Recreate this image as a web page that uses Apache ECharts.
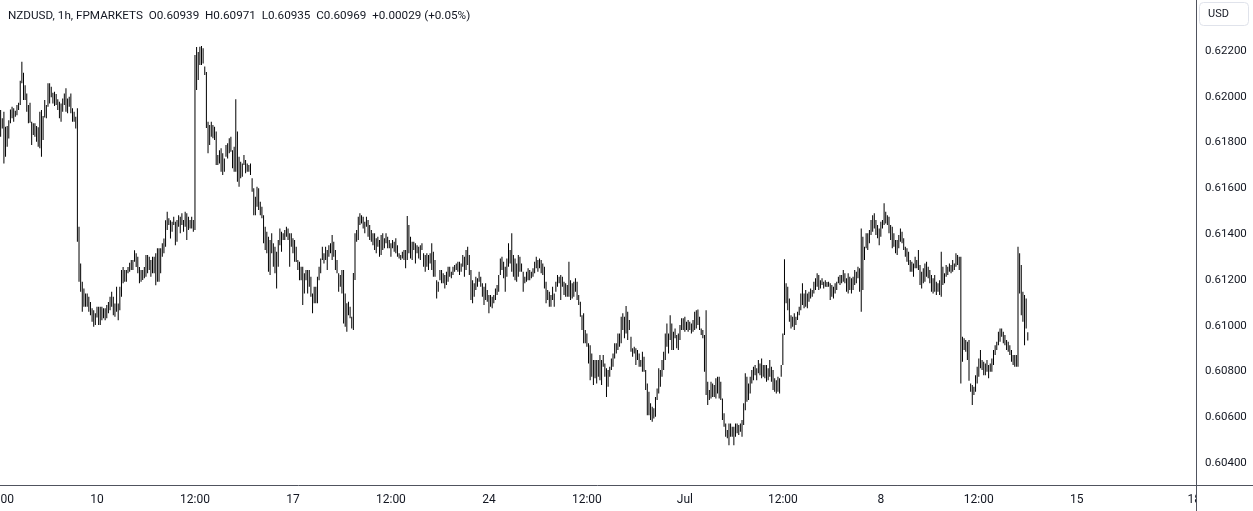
<!DOCTYPE html>
<html><head><meta charset="utf-8">
<script src="https://cdn.jsdelivr.net/npm/echarts@6/dist/echarts.min.js"></script>
<style>html,body{margin:0;padding:0;background:#fff;overflow:hidden}#chart{width:1253px;height:511px}</style>
</head><body><div id="chart"></div>
<script>
const titleText = 'NZDUSD, 1h, FPMARKETS  O0.60939  H0.60971  L0.60935  C0.60969  +0.00029 (+0.05%)';
const currency = 'USD';
const axisStart = '2024-06-05 12:00';
const firstBar = '2024-06-05 13:00';
const axisHours = 734;
const priceTicks = [0.604,0.606,0.608,0.610,0.612,0.614,0.616,0.618,0.620,0.622];
const timeTicks = [
  ['2024-06-05 12:00','12:00'],['2024-06-10 00:00','10'],['2024-06-12 12:00','12:00'],
  ['2024-06-17 00:00','17'],['2024-06-19 12:00','12:00'],['2024-06-24 00:00','24'],
  ['2024-06-26 12:00','12:00'],['2024-07-01 00:00','Jul'],['2024-07-03 12:00','12:00'],
  ['2024-07-08 00:00','8'],['2024-07-10 12:00','12:00'],['2024-07-15 00:00','15'],
  ['2024-07-18 00:00','18']
];
const highs = [
0.61942,0.61906,0.61935,0.61869,0.61872,0.61898,0.61945,0.61957,0.61950,0.61939,
0.61964,0.61974,0.62070,0.62153,0.62105,0.62051,0.62015,0.61964,0.61974,0.61891,
0.61884,0.61884,0.61872,0.61867,0.61935,0.61942,0.61916,0.61986,0.61964,0.62059,
0.62059,0.62044,0.62018,0.62022,0.62012,0.61989,0.61978,0.61971,0.61993,0.62015,
0.62037,0.61993,0.62000,0.62015,0.61950,0.61935,0.61913,0.61950,0.61432,0.61272,
0.61192,0.61163,0.61141,0.61141,0.61126,0.61104,0.61076,0.61068,0.61054,0.61083,
0.61083,0.61083,0.61083,0.61076,0.61076,0.61090,0.61104,0.61126,0.61148,0.61126,
0.61097,0.61170,0.61097,0.61170,0.61243,0.61257,0.61243,0.61243,0.61257,0.61275,
0.61287,0.61287,0.61330,0.61316,0.61301,0.61257,0.61243,0.61243,0.61257,0.61309,
0.61309,0.61301,0.61287,0.61301,0.61301,0.61316,0.61338,0.61338,0.61338,0.61360,
0.61381,0.61461,0.61498,0.61469,0.61461,0.61454,0.61476,0.61454,0.61462,0.61483,
0.61476,0.61491,0.61462,0.61498,0.61491,0.61476,0.61462,0.61476,0.61462,0.62183,
0.62218,0.62196,0.62219,0.62222,0.62212,0.62132,0.62108,0.61891,0.61877,0.61891,
0.61877,0.61869,0.61848,0.61746,0.61767,0.61775,0.61753,0.61731,0.61789,0.61797,
0.61819,0.61826,0.61767,0.61782,0.61989,0.61848,0.61738,0.61716,0.61709,0.61746,
0.61724,0.61709,0.61702,0.61709,0.61644,0.61600,0.61563,0.61607,0.61601,0.61542,
0.61520,0.61483,0.61432,0.61410,0.61389,0.61374,0.61404,0.61360,0.61345,0.61323,
0.61374,0.61425,0.61410,0.61404,0.61418,0.61432,0.61425,0.61404,0.61404,0.61382,
0.61374,0.61345,0.61287,0.61279,0.61258,0.61258,0.61229,0.61243,0.61243,0.61243,
0.61214,0.61141,0.61170,0.61170,0.61214,0.61258,0.61294,0.61345,0.61316,0.61345,
0.61331,0.61352,0.61360,0.61396,0.61367,0.61331,0.61287,0.61229,0.61221,0.61243,
0.61243,0.61141,0.61098,0.61105,0.61083,0.61039,0.61230,0.61404,0.61418,0.61476,
0.61491,0.61483,0.61476,0.61454,0.61476,0.61462,0.61440,0.61418,0.61404,0.61404,
0.61382,0.61389,0.61374,0.61396,0.61404,0.61382,0.61404,0.61389,0.61374,0.61360,
0.61374,0.61367,0.61382,0.61352,0.61316,0.61309,0.61323,0.61331,0.61331,0.61479,
0.61440,0.61389,0.61367,0.61367,0.61360,0.61352,0.61345,0.61352,0.61360,0.61316,
0.61309,0.61316,0.61309,0.61316,0.61360,0.61323,0.61287,0.61199,0.61192,0.61243,
0.61243,0.61229,0.61221,0.61236,0.61258,0.61258,0.61236,0.61258,0.61265,0.61272,
0.61279,0.61279,0.61272,0.61309,0.61301,0.61331,0.61345,0.61309,0.61243,0.61199,
0.61185,0.61214,0.61207,0.61236,0.61214,0.61185,0.61170,0.61185,0.61156,0.61134,
0.61134,0.61126,0.61134,0.61163,0.61178,0.61221,0.61294,0.61301,0.61279,0.61258,
0.61294,0.61360,0.61331,0.61404,0.61309,0.61294,0.61272,0.61309,0.61301,0.61272,
0.61236,0.61214,0.61236,0.61251,0.61243,0.61236,0.61251,0.61279,0.61301,0.61287,
0.61294,0.61287,0.61272,0.61258,0.61192,0.61156,0.61148,0.61134,0.61170,0.61141,
0.61192,0.61221,0.61214,0.61221,0.61214,0.61192,0.61185,0.61178,0.61279,0.61199,
0.61185,0.61192,0.61207,0.61192,0.61134,0.61105,0.61046,0.61054,0.60981,0.60966,
0.60923,0.60915,0.60879,0.60850,0.60850,0.60850,0.60850,0.60872,0.60850,0.60872,
0.60835,0.60814,0.60806,0.60821,0.60857,0.60879,0.60923,0.60923,0.60966,0.60966,
0.61039,0.61054,0.61039,0.61086,0.61061,0.61025,0.60952,0.60901,0.60908,0.60901,
0.60894,0.60879,0.60850,0.60886,0.60864,0.60806,0.60748,0.60711,0.60661,0.60646,
0.60639,0.60689,0.60726,0.60814,0.60806,0.60850,0.60886,0.60966,0.61010,0.60966,
0.61046,0.61010,0.60974,0.60988,0.60959,0.60966,0.61003,0.61032,0.61032,0.61039,
0.61017,0.61025,0.61017,0.61010,0.61025,0.61061,0.61068,0.61071,0.61039,0.60988,
0.60981,0.60959,0.61068,0.60755,0.60719,0.60755,0.60748,0.60741,0.60770,0.60777,
0.60777,0.60755,0.60682,0.60617,0.60573,0.60544,0.60573,0.60573,0.60558,0.60558,
0.60573,0.60573,0.60566,0.60573,0.60588,0.60661,0.60792,0.60777,0.60748,0.60777,
0.60806,0.60821,0.60828,0.60814,0.60850,0.60835,0.60857,0.60828,0.60828,0.60828,
0.60814,0.60850,0.60821,0.60806,0.60770,0.60762,0.60777,0.60770,0.60828,0.60966,
0.61290,0.61185,0.61170,0.61119,0.61046,0.61039,0.61054,0.61039,0.61061,0.61083,
0.61141,0.61185,0.61141,0.61156,0.61141,0.61148,0.61163,0.61156,0.61192,0.61207,
0.61229,0.61221,0.61199,0.61207,0.61192,0.61199,0.61191,0.61192,0.61185,0.61178,
0.61170,0.61185,0.61192,0.61214,0.61221,0.61221,0.61243,0.61229,0.61207,0.61229,
0.61214,0.61207,0.61214,0.61243,0.61236,0.61258,0.61251,0.61425,0.61389,0.61345,
0.61404,0.61404,0.61418,0.61462,0.61483,0.61491,0.61462,0.61440,0.61425,0.61454,
0.61462,0.61535,0.61498,0.61483,0.61476,0.61440,0.61432,0.61404,0.61374,0.61374,
0.61396,0.61425,0.61410,0.61382,0.61345,0.61338,0.61323,0.61287,0.61279,0.61272,
0.61301,0.61287,0.61331,0.61265,0.61236,0.61251,0.61272,0.61279,0.61258,0.61243,
0.61221,0.61207,0.61221,0.61192,0.61185,0.61199,0.61323,0.61258,0.61229,0.61265,
0.61258,0.61272,0.61265,0.61287,0.61272,0.61316,0.61309,0.61301,0.61301,0.60952,
0.60945,0.60937,0.60930,0.60937,0.60748,0.60741,0.60733,0.60784,0.60821,0.60857,
0.60894,0.60850,0.60842,0.60835,0.60850,0.60828,0.60835,0.60857,0.60894,0.60915,
0.60930,0.60974,0.60988,0.60988,0.60974,0.60959,0.60937,0.60930,0.60915,0.60894,
0.60872,0.60872,0.60872,0.61345,0.61316,0.61265,0.61148,0.61134,0.61119,0.60971
];
const lows = [
0.61825,0.61862,0.61709,0.61738,0.61782,0.61818,0.61884,0.61906,0.61891,0.61913,
0.61920,0.61942,0.61964,0.62059,0.61986,0.61986,0.61935,0.61884,0.61887,0.61789,
0.61833,0.61825,0.61804,0.61782,0.61775,0.61738,0.61811,0.61910,0.61906,0.61957,
0.61971,0.61998,0.61971,0.61960,0.61964,0.61942,0.61906,0.61891,0.61935,0.61964,
0.61935,0.61928,0.61957,0.61928,0.61891,0.61891,0.61862,0.61367,0.61192,0.61148,
0.61061,0.61083,0.61083,0.61083,0.61061,0.61046,0.61017,0.60995,0.61003,0.61036,
0.61003,0.61003,0.61024,0.61032,0.61024,0.61032,0.61054,0.61068,0.61083,0.61046,
0.61039,0.61061,0.61024,0.61068,0.61126,0.61185,0.61192,0.61192,0.61229,0.61236,
0.61243,0.61243,0.61279,0.61257,0.61229,0.61185,0.61192,0.61200,0.61207,0.61214,
0.61229,0.61243,0.61214,0.61229,0.61229,0.61177,0.61192,0.61192,0.61229,0.61301,
0.61316,0.61345,0.61418,0.61440,0.61381,0.61410,0.61440,0.61352,0.61367,0.61432,
0.61404,0.61440,0.61410,0.61432,0.61374,0.61418,0.61425,0.61425,0.61410,0.61418,
0.62030,0.62073,0.62139,0.62139,0.62146,0.62095,0.61864,0.61753,0.61789,0.61826,
0.61819,0.61811,0.61702,0.61702,0.61709,0.61673,0.61658,0.61673,0.61738,0.61731,
0.61753,0.61760,0.61688,0.61673,0.61673,0.61629,0.61607,0.61644,0.61651,0.61702,
0.61666,0.61673,0.61673,0.61658,0.61585,0.61483,0.61483,0.61520,0.61505,0.61483,
0.61469,0.61360,0.61331,0.61316,0.61236,0.61221,0.61316,0.61258,0.61229,0.61163,
0.61258,0.61352,0.61323,0.61374,0.61374,0.61389,0.61374,0.61258,0.61345,0.61316,
0.61279,0.61278,0.61243,0.61199,0.61199,0.61090,0.61141,0.61199,0.61141,0.61170,
0.61126,0.61054,0.61098,0.61098,0.61098,0.61199,0.61229,0.61287,0.61272,0.61287,
0.61243,0.61301,0.61316,0.61287,0.61301,0.61243,0.61229,0.61148,0.61170,0.61141,
0.61010,0.60995,0.60974,0.61046,0.61032,0.60988,0.60981,0.61200,0.61367,0.61374,
0.61440,0.61447,0.61425,0.61404,0.61432,0.61389,0.61374,0.61367,0.61352,0.61331,
0.61316,0.61345,0.61301,0.61309,0.61331,0.61338,0.61360,0.61338,0.61338,0.61301,
0.61338,0.61323,0.61316,0.61301,0.61294,0.61287,0.61294,0.61287,0.61251,0.61287,
0.61316,0.61294,0.61287,0.61331,0.61272,0.61316,0.61294,0.61287,0.61331,0.61258,
0.61236,0.61258,0.61243,0.61272,0.61243,0.61214,0.61214,0.61119,0.61148,0.61199,
0.61185,0.61185,0.61163,0.61178,0.61192,0.61214,0.61207,0.61221,0.61236,0.61243,
0.61236,0.61221,0.61236,0.61258,0.61214,0.61243,0.61265,0.61221,0.61112,0.61098,
0.61126,0.61156,0.61170,0.61192,0.61170,0.61126,0.61090,0.61112,0.61105,0.61054,
0.61083,0.61076,0.61098,0.61112,0.61134,0.61148,0.61221,0.61243,0.61207,0.61148,
0.61214,0.61258,0.61272,0.61236,0.61214,0.61199,0.61192,0.61214,0.61236,0.61236,
0.61148,0.61185,0.61192,0.61199,0.61199,0.61207,0.61214,0.61229,0.61251,0.61236,
0.61251,0.61229,0.61221,0.61163,0.61098,0.61112,0.61083,0.61083,0.61112,0.61083,
0.61148,0.61170,0.61185,0.61112,0.61170,0.61134,0.61126,0.61126,0.61126,0.61112,
0.61119,0.61126,0.61148,0.61112,0.61090,0.61039,0.60981,0.60923,0.60923,0.60908,
0.60835,0.60762,0.60777,0.60741,0.60770,0.60748,0.60777,0.60762,0.60741,0.60821,
0.60777,0.60689,0.60733,0.60777,0.60806,0.60821,0.60857,0.60879,0.60894,0.60908,
0.60923,0.60981,0.60945,0.60966,0.60937,0.60981,0.60886,0.60864,0.60879,0.60828,
0.60850,0.60821,0.60821,0.60799,0.60799,0.60719,0.60609,0.60609,0.60588,0.60580,
0.60595,0.60602,0.60675,0.60704,0.60733,0.60777,0.60806,0.60850,0.60908,0.60879,
0.60937,0.60894,0.60894,0.60945,0.60901,0.60894,0.60937,0.60981,0.60981,0.60974,
0.60981,0.60974,0.60981,0.60966,0.60974,0.60981,0.60988,0.61003,0.60981,0.60959,
0.60945,0.60799,0.60697,0.60653,0.60675,0.60682,0.60689,0.60689,0.60682,0.60704,
0.60682,0.60675,0.60588,0.60558,0.60515,0.60508,0.60478,0.60515,0.60515,0.60478,
0.60515,0.60530,0.60522,0.60537,0.60515,0.60566,0.60631,0.60668,0.60675,0.60704,
0.60748,0.60762,0.60784,0.60762,0.60792,0.60784,0.60770,0.60777,0.60770,0.60755,
0.60762,0.60777,0.60755,0.60719,0.60711,0.60704,0.60711,0.60704,0.60777,0.60828,
0.60959,0.61098,0.61068,0.61017,0.60988,0.60995,0.60981,0.61003,0.61025,0.61046,
0.61068,0.61090,0.61076,0.61083,0.61076,0.61105,0.61119,0.61126,0.61141,0.61156,
0.61170,0.61156,0.61163,0.61178,0.61163,0.61170,0.61169,0.61170,0.61112,0.61126,
0.61119,0.61141,0.61156,0.61185,0.61178,0.61185,0.61192,0.61185,0.61148,0.61141,
0.61156,0.61141,0.61156,0.61178,0.61185,0.61207,0.61148,0.61061,0.61156,0.61287,
0.61338,0.61331,0.61360,0.61396,0.61410,0.61425,0.61396,0.61382,0.61352,0.61389,
0.61425,0.61440,0.61447,0.61440,0.61404,0.61374,0.61338,0.61345,0.61316,0.61309,
0.61338,0.61367,0.61360,0.61331,0.61301,0.61279,0.61265,0.61236,0.61236,0.61214,
0.61251,0.61251,0.61243,0.61178,0.61163,0.61185,0.61192,0.61214,0.61207,0.61185,
0.61148,0.61141,0.61148,0.61134,0.61148,0.61134,0.61126,0.61178,0.61185,0.61214,
0.61221,0.61236,0.61229,0.61236,0.61243,0.61258,0.61265,0.61243,0.60748,0.60842,
0.60894,0.60886,0.60850,0.60760,0.60711,0.60653,0.60697,0.60711,0.60748,0.60777,
0.60814,0.60806,0.60784,0.60784,0.60799,0.60770,0.60799,0.60799,0.60828,0.60872,
0.60894,0.60915,0.60930,0.60952,0.60923,0.60915,0.60894,0.60886,0.60872,0.60842,
0.60828,0.60821,0.60821,0.60821,0.61141,0.61046,0.61017,0.60915,0.60988,0.60935
];

function pad(n){return (n<10?'0':'')+n;}
function tradingHours(start, count){
  const [d,t]=start.split(' ');
  const [Y,M,D]=d.split('-').map(Number);
  const h=Number(t.split(':')[0]);
  let ms=Date.UTC(Y,M-1,D,h);
  const out=[];
  while(out.length<count){
    const dt=new Date(ms);
    const wd=dt.getUTCDay(), hr=dt.getUTCHours();
    const closed=(wd===5&&hr>=21)||wd===6||(wd===0&&hr<21);
    if(!closed) out.push(dt.getUTCFullYear()+'-'+pad(dt.getUTCMonth()+1)+'-'+pad(dt.getUTCDate())+' '+pad(hr)+':00');
    ms+=3600000;
  }
  return out;
}
const categories = tradingHours(axisStart, axisHours);
const barTimes = tradingHours(firstBar, highs.length);
const labelMap = new Map(timeTicks);
const barData = barTimes.map((t,i)=>[t, highs[i], lows[i]]);

const chart = echarts.init(document.getElementById('chart'), null, {renderer:'canvas'});
const font = 'Roboto, "Liberation Sans", sans-serif';
chart.setOption({
  animation:false,
  backgroundColor:'#ffffff',
  title:{text:titleText,left:3,top:5,textStyle:{fontSize:11.7,fontWeight:'normal',color:'#131722',fontFamily:font}},
  grid:{left:-1,right:57,top:0,bottom:26,containLabel:false,outerBoundsMode:'none'},
  xAxis:{type:'category',data:categories,boundaryGap:false,
    axisLine:{show:true,lineStyle:{color:'#50535e',width:1}},
    axisTick:{show:false},splitLine:{show:false},
    axisLabel:{interval:(i,v)=>labelMap.has(v),formatter:v=>labelMap.get(v)||'',
      showMinLabel:true,showMaxLabel:true,hideOverlap:false,margin:9,color:'#131722',fontSize:12,fontFamily:font}},
  yAxis:{type:'value',position:'right',min:0.60304,max:0.62423,scale:true,
    axisLine:{show:true,lineStyle:{color:'#50535e',width:1}},
    axisTick:{show:false},splitLine:{show:false},
    axisLabel:{customValues:priceTicks,formatter:v=>v.toFixed(5),margin:9,color:'#131722',fontSize:11.5,fontFamily:font}},
  series:[{
    type:'custom',
    data:barData,
    encode:{x:0,y:[1,2]},
    renderItem:(params,api)=>{
      const hi=api.coord([api.value(0),api.value(1)]);
      const lo=api.coord([api.value(0),api.value(2)]);
      return {type:'rect',shape:{x:hi[0]-0.5,y:hi[1],width:1,height:Math.max(1,lo[1]-hi[1])},style:{fill:'#000000'}};
    }
  }],
  graphic:[
    {type:'rect',z:100,shape:{x:1197,y:486,width:60,height:30},style:{fill:'#ffffff'}},
    {type:'line',z:101,shape:{x1:1196.5,y1:484,x2:1196.5,y2:511},style:{stroke:'#50535e',lineWidth:1}},
    {type:'line',z:101,shape:{x1:1196,y1:485.5,x2:1253,y2:485.5},style:{stroke:'#50535e',lineWidth:1}},
    {type:'rect',z:101,shape:{x:1199.5,y:2.5,width:49,height:23,r:4},style:{fill:'#ffffff',stroke:'#e0e3eb',lineWidth:1}},
    {type:'text',z:102,x:1208,y:14,style:{text:currency,fill:'#131722',font:'11px '+font,textVerticalAlign:'middle'}}
  ]
});
</script></body></html>
